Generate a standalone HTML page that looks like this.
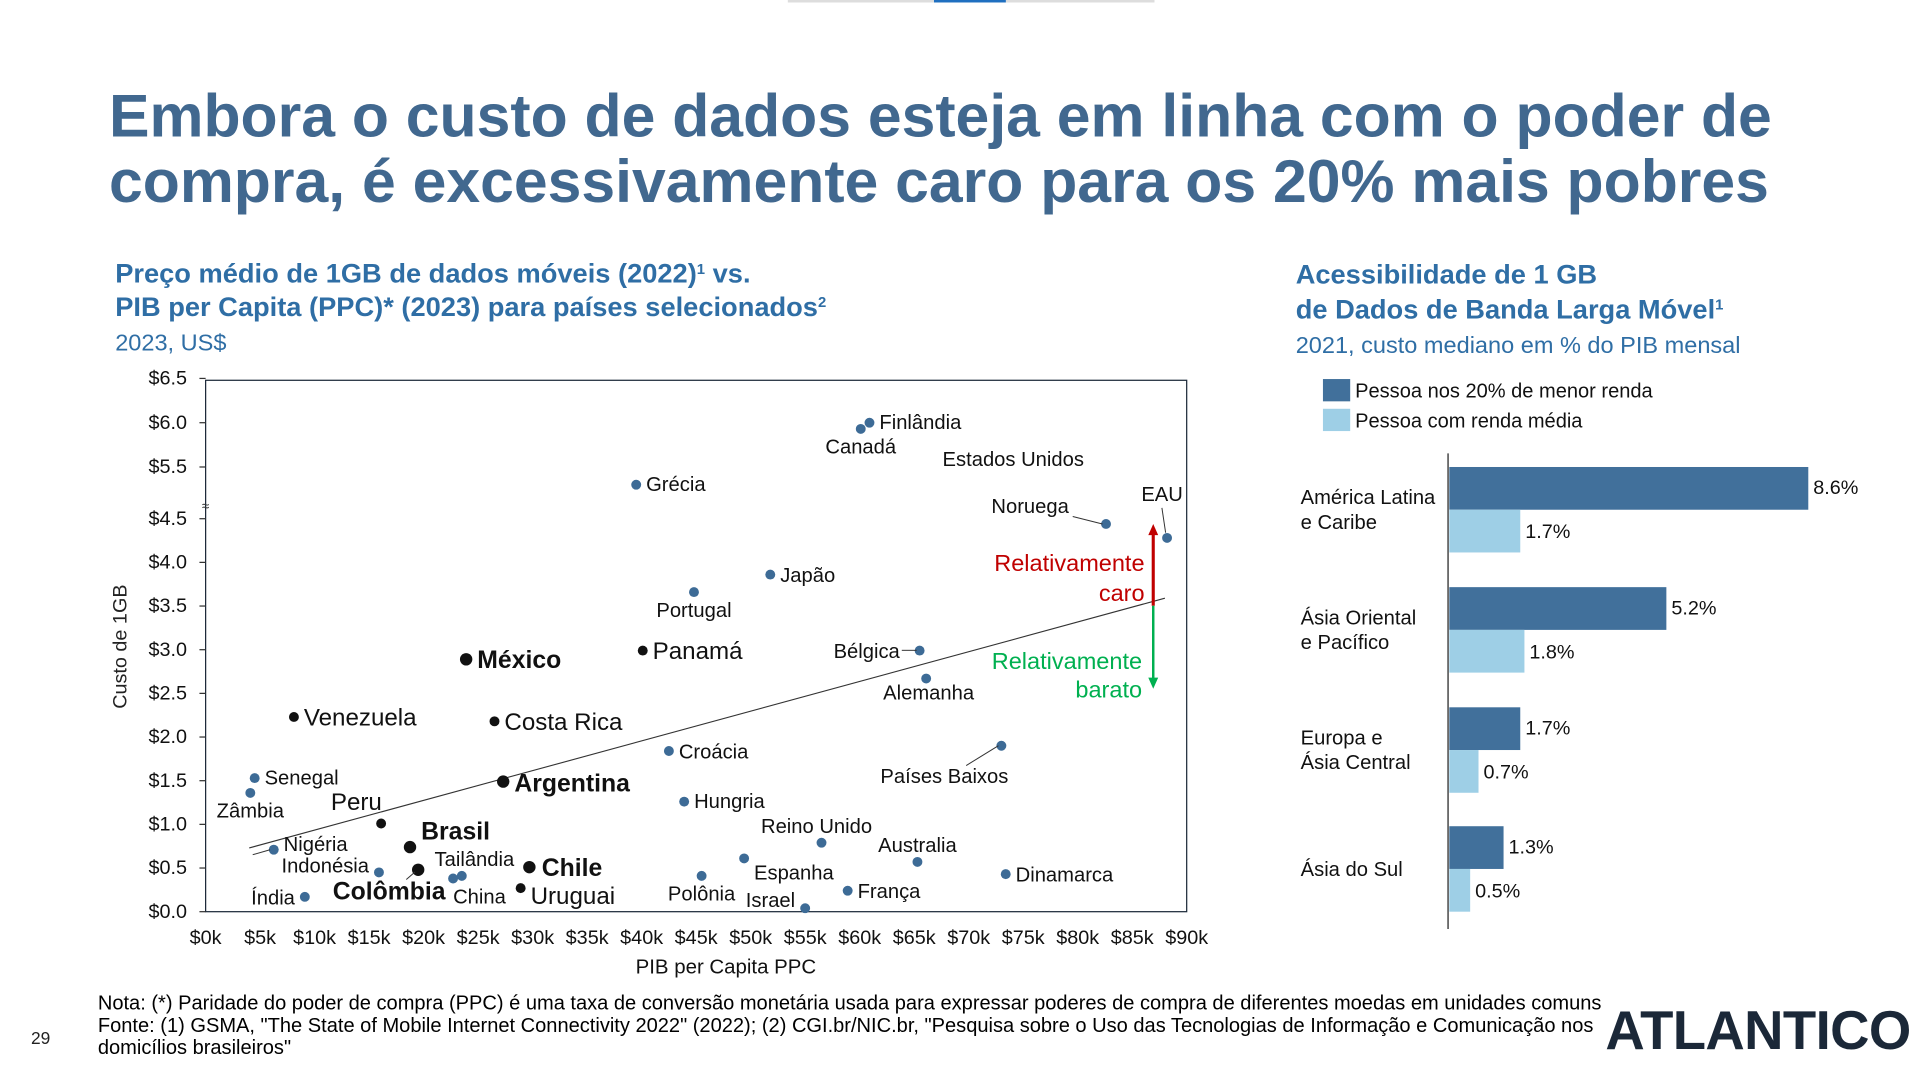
<!DOCTYPE html>
<html><head><meta charset="utf-8"><style>
html,body{margin:0;padding:0;background:#fff;width:1920px;height:1080px;overflow:hidden}
#stage{position:absolute;left:0;top:0;width:1550px;height:872px;transform:scale(1.23871);transform-origin:0 0;font-family:"Liberation Sans",sans-serif}
.abs{position:absolute;white-space:nowrap}
sup{line-height:0;font-size:12px;vertical-align:7px}
</style></head><body>
<div id="stage">
<div class="abs" style="left:636px;top:0;width:296px;height:2px;background:#ddd"></div>
<div class="abs" style="left:754px;top:0;width:58px;height:2px;background:#1f6fc0"></div>
<div class="abs" style="left:88px;top:68px;font-size:49px;font-weight:bold;color:#41688f;line-height:53px">Embora o custo de dados esteja em linha com o poder de<br>compra, é excessivamente caro para os 20% mais pobres</div>
<div class="abs" style="left:93px;top:207px;font-size:22px;font-weight:bold;color:#2f6ea5;line-height:27px">Preço médio de 1GB de dados móveis (2022)<sup>1</sup> vs.<br>PIB per Capita (PPC)* (2023) para países selecionados<sup>2</sup></div>
<div class="abs" style="left:93px;top:267px;font-size:19px;color:#2f6ea5">2023, US$</div>
<div class="abs" style="left:1046px;top:208px;font-size:22px;font-weight:bold;color:#2f6ea5;line-height:28px">Acessibilidade de 1 GB<br>de Dados de Banda Larga Móvel<sup>1</sup></div>
<div class="abs" style="left:1046px;top:269px;font-size:19px;color:#2f6ea5">2021, custo mediano em % do PIB mensal</div>
<svg id="chart" width="1550" height="872" style="position:absolute;left:0;top:0"></svg>
<div class="abs" style="left:79px;top:801px;font-size:16.2px;color:#000;line-height:18px">Nota: (*) Paridade do poder de compra (PPC) é uma taxa de conversão monetária usada para expressar poderes de compra de diferentes moedas em unidades comuns<br>Fonte: (1) GSMA, "The State of Mobile Internet Connectivity 2022" (2022); (2) CGI.br/NIC.br, "Pesquisa sobre o Uso das Tecnologias de Informação e Comunicação nos<br>domicílios brasileiros"</div>
<div class="abs" style="left:25px;top:830px;font-size:14px;color:#222">29</div>
<div class="abs" style="left:1296px;top:808px;font-size:44px;font-weight:bold;color:#1b2838;letter-spacing:-0.5px">ATLANTICO</div>
</div>
<script>
const countries=["Finlândia","Canadá","Grécia","Noruega","EAU","Japão","Portugal","Panamá","México","Bélgica","Alemanha","Venezuela","Costa Rica","Croácia","Países Baixos","Senegal","Zâmbia","Argentina","Hungria","Peru","Reino Unido","Nigéria","Brasil","Australia","Espanha","Indonésia","Colômbia","Tailândia","China","Chile","Dinamarca","Polônia","Uruguai","França","Índia","Israel"];
const gdpK=[60.9,60.1,39.5,82.6,88.2,51.8,44.8,40.1,23.9,65.5,66.1,8.1,26.5,42.5,73.0,4.5,4.1,27.3,43.9,16.1,56.5,6.25,18.75,65.3,49.4,15.9,19.5,23.5,22.7,29.7,73.4,45.5,28.9,58.9,9.1,55.0];
const costUsd=[6.0,5.93,5.3,4.44,4.28,3.86,3.66,2.99,2.89,2.99,2.67,2.23,2.18,1.84,1.9,1.53,1.36,1.49,1.26,1.01,0.79,0.71,0.74,0.57,0.61,0.45,0.48,0.41,0.38,0.51,0.43,0.41,0.27,0.24,0.17,0.04];
const kind=[0,0,0,0,0,0,0,1,2,0,0,1,1,0,0,0,0,2,0,1,0,0,2,0,0,0,2,0,0,2,0,0,1,0,0,0];
const xTicks=[0,5,10,15,20,25,30,35,40,45,50,55,60,65,70,75,80,85,90];
const yTicks=[0,0.5,1,1.5,2,2.5,3,3.5,4,4.5,5.5,6,6.5];
const trendX=[4,88];
const trendY=[0.73,3.59];
const regions=["América Latina|e Caribe","Ásia Oriental|e Pacífico","Europa e|Ásia Central","Ásia do Sul"];
const poorest=[8.6,5.2,1.7,1.3];
const average=[1.7,1.8,0.7,0.5];
// label layout (offsets in px, anchor)
const lab=[[8,5,"start"],[0,20,"middle"],[8,5,"start"],[-30,-9,"end"],[-4,-30,"middle"],[8,6,"start"],[0,20,"middle"],[8,7,"start"],[9,7,"start"],[-16,6,"end"],[2,17,"middle"],[8,7,"start"],[8,7,"start"],[8,6,"start"],[-46,30,"middle"],[8,5,"start"],[0,20,"middle"],[9,8,"start"],[8,5,"start"],[-20,-11,"middle"],[-4,-8,"middle"],[8,1,"start"],[9,-6,"start"],[0,-8,"middle"],[8,17,"start"],[-8,0,"end"],[-69,24,"start"],[-22,-8,"start"],[0,20,"start"],[10,7,"start"],[8,6,"start"],[0,20,"middle"],[8,13,"start"],[8,6,"start"],[-8,6,"end"],[-28,-1,"middle"]];
const NS="http://www.w3.org/2000/svg";
const svg=document.getElementById('chart');
function mk(t,a,p){const e=document.createElementNS(NS,t);for(const k in a)e.setAttribute(k,a[k]);(p||svg).appendChild(e);return e;}
function xs(k){return 166+k*8.8;}
function ys(v){return v<=4.6?736-v*70.5:377-(v-5.5)*71.5;}
let fr=mk('rect',{x:166,y:307,width:792,height:429,fill:'none',stroke:'#1d2a3a','stroke-width':1});

yTicks.forEach(v=>{const y=ys(v);
 let t=mk('text',{x:151,y:y+5,'text-anchor':'end','font-size':16,fill:'#111'});t.textContent='$'+v.toFixed(1);
 
 mk('line',{x1:161,x2:166,y1:y,y2:y,stroke:'#333'});});
let br=mk('text',{x:163,y:412,'font-size':11,fill:'#333'});br.textContent='≈';

xTicks.forEach(k=>{let t=mk('text',{x:xs(k),y:762,'text-anchor':'middle','font-size':16,fill:'#111'});t.textContent='$'+k+'k';
 });
let xt=mk('text',{x:586,y:786,'text-anchor':'middle','font-size':16.5,fill:'#111'});xt.textContent='PIB per Capita PPC';

let yt=mk('text',{x:102,y:522,'text-anchor':'middle','font-size':16,fill:'#222',transform:'rotate(-90 102 522)'});yt.textContent='Custo de 1GB';

let tl=mk('line',{x1:xs(trendX[0]),y1:ys(trendY[0]),x2:xs(trendX[1]),y2:ys(trendY[1]),stroke:'#333','stroke-width':0.9});

countries.forEach((c,i)=>{const x=xs(gdpK[i]),y=ys(costUsd[i]);
 const col=kind[i]?'#111':'#3d6b96';const r=kind[i]==2?5:4;
 let d=mk('circle',{cx:x,cy:y,r:r,fill:col});
 
 
 const L=lab[i];
 let t=mk('text',{x:x+L[0],y:y+L[1],'text-anchor':L[2],'font-size':kind[i]==2?20:(kind[i]==1?19.5:16.3),'font-weight':kind[i]==2?'bold':'normal',fill:'#111'});
 t.textContent=c;
 
 });
let us=mk('text',{x:818,y:376,'text-anchor':'middle','font-size':16.3,fill:'#111'});us.textContent='Estados Unidos';

mk('line',{x1:866,y1:417,x2:890,y2:423,stroke:'#333','stroke-width':0.8});
mk('line',{x1:938,y1:410,x2:941,y2:430,stroke:'#333','stroke-width':0.8});
mk('line',{x1:728,y1:525,x2:740,y2:525,stroke:'#333','stroke-width':0.8});
mk('line',{x1:780,y1:618,x2:806,y2:602,stroke:'#333','stroke-width':0.8});
mk('line',{x1:204,y1:690,x2:218,y2:686,stroke:'#333','stroke-width':0.8});
mk('line',{x1:328,y1:710,x2:335,y2:704,stroke:'#333','stroke-width':0.8});
let a1=mk('line',{x1:931,y1:489,x2:931,y2:430,stroke:'#c00000','stroke-width':2.5});

mk('polygon',{points:'927,432 935,432 931,423',fill:'#c00000'});
let a2=mk('line',{x1:931,y1:489,x2:931,y2:548,stroke:'#00b050','stroke-width':2});

mk('polygon',{points:'927,547 935,547 931,556',fill:'#00b050'});
[['Relativamente',924,461,'#c00000'],['caro',924,485,'#c00000'],['Relativamente',922,540,'#00b050'],['barato',922,563,'#00b050']].forEach(a=>{
 let t=mk('text',{x:a[1],y:a[2],'text-anchor':'end','font-size':19,fill:a[3]});t.textContent=a[0];
 });
const bx=1170,bs=33.7,gy=[377,474,571,667],bh=34.5;
mk('line',{x1:1169,x2:1169,y1:366,y2:750,stroke:'#222','stroke-width':1});
[['#41709b','Pessoa nos 20% de menor renda',306],['#9ecfe6','Pessoa com renda média',330]].forEach(l=>{
 let r=mk('rect',{x:1068,y:l[2],width:22,height:18,fill:l[0]});
 
 let t=mk('text',{x:1094,y:l[2]+15,'font-size':16.2,fill:'#111'});t.textContent=l[1];
 });
regions.forEach((rg,i)=>{
 const y0=gy[i];
 let b1=mk('rect',{x:bx,y:y0,width:poorest[i]*bs,height:bh,fill:'#41709b'});
 
 let b2=mk('rect',{x:bx,y:y0+bh,width:average[i]*bs,height:bh,fill:'#9ecfe6'});
 
 let v1=mk('text',{x:bx+poorest[i]*bs+4,y:y0+22,'font-size':16,fill:'#111'});v1.textContent=poorest[i].toFixed(1)+'%';
 
 let v2=mk('text',{x:bx+average[i]*bs+4,y:y0+bh+23,'font-size':16,fill:'#111'});v2.textContent=average[i].toFixed(1)+'%';
 
 const parts=rg.split('|');
 const ly=parts.length==1?y0+40:y0+30;
 parts.forEach((p,j)=>{let t=mk('text',{x:1050,y:ly+j*20,'font-size':16.3,fill:'#111'});t.textContent=p;
  });
});
</script>
</body></html>
